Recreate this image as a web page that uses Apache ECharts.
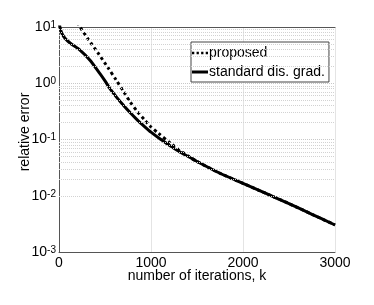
<!DOCTYPE html>
<html><head><meta charset="utf-8">
<script src="https://cdn.jsdelivr.net/npm/echarts@6/dist/echarts.min.js"></script>
<style>html,body{margin:0;padding:0;background:#fff}#c{width:374px;height:305px}</style>
</head><body><div id="c"></div>
<script>
// Data
const xTicks = [0, 1000, 2000, 3000];
const yDecades = [0.001, 0.01, 0.1, 1, 10];
const minorGrid = [0.002,0.003,0.004,0.005,0.006,0.007,0.008,0.009,
  0.02,0.03,0.04,0.05,0.06,0.07,0.08,0.09,
  0.2,0.3,0.4,0.5,0.6,0.7,0.8,0.9,
  2,3,4,5,6,7,8,9];
const stdX = [0, 10, 30, 65, 120, 228, 337, 445, 500, 560, 627, 700, 772, 850, 930, 1000, 1100, 1207, 1300, 1424, 1500, 1750, 2000, 2250, 2500, 2750, 3000];
const stdY = [12.9, 10, 7.76, 6.31, 5.2, 3.89, 2.57, 1.48, 1.10, 0.776, 0.562, 0.407, 0.302, 0.224, 0.170, 0.135, 0.102, 0.0776, 0.0617, 0.0479, 0.0407, 0.0251, 0.0166, 0.0110, 0.00724, 0.00468, 0.00302];
const propX = [200, 228, 319, 427, 536, 620, 700, 772, 850, 930, 989, 1080, 1207, 1300, 1400, 1500, 1750, 2000, 2250, 2500, 2750, 3000];
const propY = [12, 10, 6.03, 3.39, 1.86, 1.15, 0.724, 0.468, 0.316, 0.224, 0.174, 0.129, 0.0871, 0.0661, 0.0513, 0.0407, 0.0251, 0.0166, 0.0110, 0.00724, 0.00468, 0.00302];
const seriesNames = ['proposed', 'standard dis. grad.'];

const font = 'Liberation Sans, Arial, Helvetica, sans-serif';
const chart = echarts.init(document.getElementById('c'));
const zip = (xs, ys) => xs.map((x, i) => [x, ys[i]]);
const frameAxis = { show: true, lineStyle: { color: '#555', width: 1 } };
chart.setOption({
  animation: false,
  backgroundColor: '#fff',
  grid: { left: 59, right: 39, top: 27, bottom: 53 },
  legend: {
    data: [
      { name: seriesNames[0], icon: 'path://M0,0h2v2h-2zM4,0h2v2h-2zM8,0h2v2h-2zM12,0h2v2h-2z' },
      { name: seriesNames[1], icon: 'rect' }
    ],
    orient: 'vertical',
    left: 191, top: 42,
    itemWidth: 16, itemHeight: 3, itemGap: 3,
    padding: [3, 4, 2, 1],
    backgroundColor: '#fff',
    borderColor: '#444', borderWidth: 1, borderRadius: 0,
    itemStyle: { color: '#000', borderWidth: 0 },
    lineStyle: { width: 0 },
    textStyle: { fontFamily: font, fontSize: 14, color: '#000', padding: [0,0,0,-4], lineHeight: 16 }
  },
  xAxis: [{
    type: 'value', min: 0, max: 3000, interval: 1000,
    name: 'number of iterations, k', nameLocation: 'middle', nameGap: 17, nameMoveOverlap: false,
    nameTextStyle: { fontFamily: font, fontSize: 14, color: '#000' },
    axisLine: { show: true, onZero: false, lineStyle: { color: '#555', width: 1 } },
    axisTick: { show: false },
    axisLabel: { fontFamily: font, fontSize: 14, color: '#000', margin: 4,
      customValues: xTicks, formatter: v => String(v) },
    splitLine: { show: true, lineStyle: { color: '#e4e4e4', width: 1 } }
  }, {
    type: 'value', min: 0, max: 3000, position: 'top',
    axisLine: frameAxis, axisTick: { show: false }, axisLabel: { show: false }, splitLine: { show: false }
  }],
  yAxis: [{
    type: 'log', min: 0.001, max: 10, logBase: 10,
    name: 'relative error', nameLocation: 'middle', nameGap: 27, nameMoveOverlap: false,
    nameTextStyle: { fontFamily: font, fontSize: 14, color: '#000', padding: [0,0,0,15] },
    axisLine: { show: true, lineStyle: { color: '#555', width: 1 } },
    axisTick: { show: false },
    splitLine: { show: true, lineStyle: { color: '#c8c8c8', type: 'dotted', width: 1 } },
    axisLabel: {
      margin: 3,
      customValues: yDecades,
      formatter: v => '{b|10}{s|' + Math.round(Math.log10(v)) + '}',
      rich: {
        b: { fontFamily: font, fontSize: 14, color: '#000', lineHeight: 14, verticalAlign: 'bottom' },
        s: { fontFamily: font, fontSize: 10, color: '#000', lineHeight: 10, verticalAlign: 'top', padding: [0,0,7,0] }
      }
    }
  }, {
    type: 'log', min: 0.001, max: 10, position: 'right',
    axisLine: frameAxis, axisTick: { show: false }, axisLabel: { show: false }, splitLine: { show: false }
  }],
  series: [{
    name: seriesNames[0], type: 'line', data: zip(propX, propY),
    showSymbol: false, symbol: 'none', smooth: 0.25, clip: true, z: 2,
    lineStyle: { color: '#000', width: 3, type: [3, 3] },
    itemStyle: { color: '#000' },
    markLine: {
      silent: true, symbol: 'none', label: { show: false },
      lineStyle: { color: '#d2d2d2', type: 'dotted', width: 1 },
      data: minorGrid.map(v => ({ yAxis: v }))
    }
  }, {
    name: seriesNames[1], type: 'line', data: zip(stdX, stdY),
    showSymbol: false, symbol: 'none', smooth: 0.25, clip: true, z: 3,
    lineStyle: { color: '#000', width: 3 },
    itemStyle: { color: '#000' }
  }]
});
</script></body></html>
